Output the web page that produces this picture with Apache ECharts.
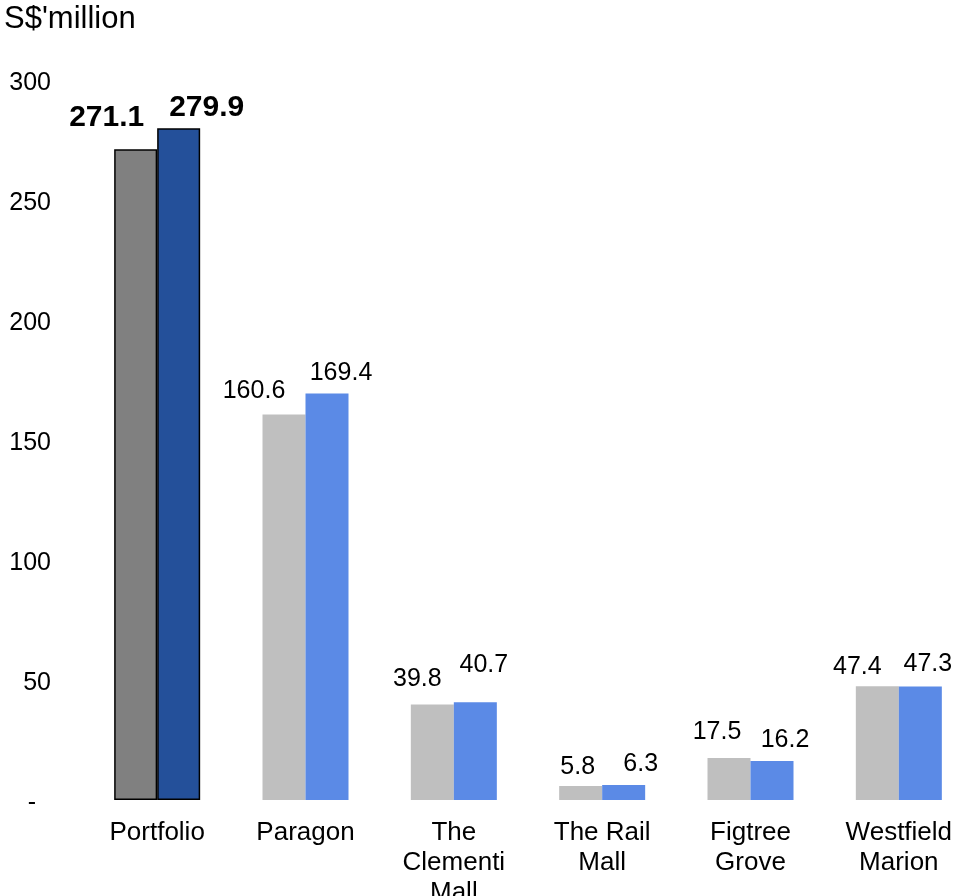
<!DOCTYPE html>
<html>
<head>
<meta charset="utf-8">
<script src="https://cdn.jsdelivr.net/npm/echarts@6/dist/echarts.min.js"></script>
<style>
html,body{margin:0;padding:0;background:#fff;}
#c{width:953px;height:896px;}
</style>
</head>
<body>
<div id="c"></div>
<script>
var categories = ['Portfolio', 'Paragon', 'The\nClementi\nMall', 'The Rail\nMall', 'Figtree\nGrove', 'Westfield\nMarion'];
var priorValues = [271.1, 160.6, 39.8, 5.8, 17.5, 47.4];
var currentValues = [279.9, 169.4, 40.7, 6.3, 16.2, 47.3];
var yTicks = [0, 50, 100, 150, 200, 250, 300];

// label nudges (style only)
var priorLabelOffsets = [[-29, -17], [-30, -11], [-15, -13], [-3, -6], [-12, -13], [-20, -6.5]];
var currentLabelOffsets = [[28, -6], [14, -8], [8.5, -24.5], [17, -8.5], [13, -8.5], [7.5, -9.5]];

var FONT = '"Liberation Sans", Arial, sans-serif';

function build(values, offsets, baseColor, portfolioColor) {
  return values.map(function (v, i) {
    var item = {
      value: v,
      itemStyle: { color: baseColor },
      label: { offset: offsets[i] }
    };
    if (i === 0) {
      item.itemStyle = { color: portfolioColor, borderColor: '#000', borderWidth: 1.5 };
      item.label = { offset: offsets[i], fontWeight: 'bold', fontSize: 30 };
    }
    return item;
  });
}

var chart = echarts.init(document.getElementById('c'));
chart.setOption({
  animation: false,
  backgroundColor: '#fff',
  title: {
    text: "S$'million",
    left: 4, top: 4, padding: 0,
    textStyle: { fontFamily: FONT, fontSize: 31, fontWeight: 'normal', color: '#000' }
  },
  grid: { left: 83, right: -20, top: 80, bottom: 96, outerBoundsMode: 'none', containLabel: false },
  xAxis: {
    type: 'category',
    data: categories,
    axisLine: { show: false },
    axisTick: { show: false },
    axisLabel: {
      interval: 0, margin: 18,
      fontFamily: FONT, fontSize: 26, lineHeight: 30, color: '#000'
    }
  },
  yAxis: {
    type: 'value',
    min: yTicks[0], max: yTicks[yTicks.length - 1], interval: 50,
    axisLine: { show: false },
    axisTick: { show: false },
    splitLine: { show: false },
    axisLabel: {
      margin: 32,
      padding: [6, 0, 0, 0],
      fontFamily: FONT, fontSize: 25, color: '#000',
      formatter: function (v) { return v === 0 ? '{d|-}' : String(v); },
      rich: { d: { fontFamily: FONT, fontSize: 25, color: '#000', padding: [0, 15, 0, 0] } }
    }
  },
  series: [
    {
      type: 'bar',
      data: build(priorValues, priorLabelOffsets, '#BFBFBF', '#808080'),
      barWidth: 43,
      barGap: '0%',
      label: {
        show: true, position: 'top', distance: 0,
        fontFamily: FONT, fontSize: 25, color: '#000'
      }
    },
    {
      type: 'bar',
      data: build(currentValues, currentLabelOffsets, '#5B8AE6', '#24509A'),
      barWidth: 43,
      barGap: '0%',
      label: {
        show: true, position: 'top', distance: 0,
        fontFamily: FONT, fontSize: 25, color: '#000'
      }
    }
  ]
});
</script>
</body>
</html>
